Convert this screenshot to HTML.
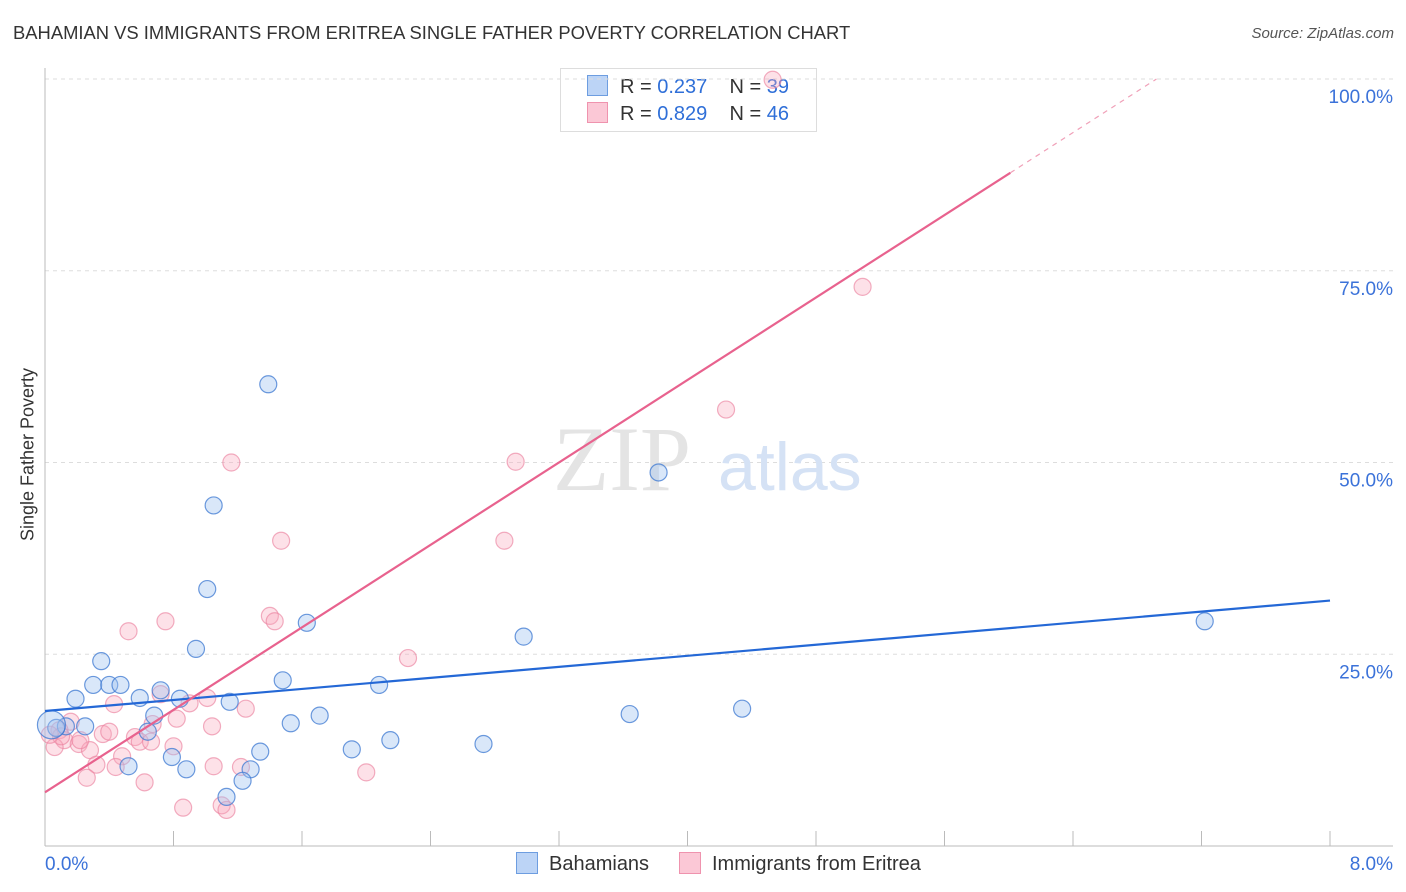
<!DOCTYPE html>
<html><head><meta charset="utf-8"><style>
body{margin:0;background:#fff;font-family:"Liberation Sans",sans-serif;}
#wrap{position:relative;width:1406px;height:892px;overflow:hidden}
.t{position:absolute;white-space:nowrap}
</style></head><body>
<div id="wrap">
<div class="t" style="left:13px;top:22px;font-size:18.4px;color:#333">BAHAMIAN VS IMMIGRANTS FROM ERITREA SINGLE FATHER POVERTY CORRELATION CHART</div>
<div class="t" style="right:12px;top:25px;font-size:15px;color:#555;font-style:italic">Source: ZipAtlas.com</div>
<div class="t" style="left:-60px;top:444px;font-size:18px;color:#333;transform:rotate(-90deg);width:176px;text-align:center">Single Father Poverty</div>
<div class="t" style="left:560px;top:68px;width:255px;height:62px;border:1px solid #ddd;background:#fff;font-size:20px;color:#333">
 <div style="position:absolute;left:58px;top:6px"><span style="display:inline-block;width:19px;height:19px;background:#bcd4f6;border:1px solid #6d9de0;vertical-align:-3px;margin-right:12px;margin-left:-32px"></span>R = <span style="color:#2f6fd8">0.237</span>&nbsp;&nbsp;&nbsp; N = <span style="color:#2f6fd8">39</span></div>
 <div style="position:absolute;left:58px;top:33px"><span style="display:inline-block;width:19px;height:19px;background:#fbc8d6;border:1px solid #ef93ae;vertical-align:-3px;margin-right:12px;margin-left:-32px"></span>R = <span style="color:#2f6fd8">0.829</span>&nbsp;&nbsp;&nbsp; N = <span style="color:#2f6fd8">46</span></div>
</div>
<svg id="svg" width="1406" height="892" style="position:absolute;left:0;top:0"></svg>
</div>
<script>
const blueX=[1.39,1.05,3.82,1.01,1.63,2.98,7.22,0.94,0.35,1.48,0.30,0.40,0.47,0.19,0.59,0.72,0.84,1.15,2.08,0.68,1.53,1.71,3.64,4.34,0.25,0.13,0.07,0.64,0.79,1.34,1.91,2.15,2.73,0.52,0.88,1.28,1.23,1.13,0.04];
const blueY=[60.2,44.4,48.7,33.5,29.1,27.3,29.3,25.7,24.1,21.6,21.0,21.0,21.0,19.2,19.3,20.3,19.2,18.8,21.0,17.0,16.0,17.0,17.2,17.9,15.6,15.6,15.4,14.9,11.6,12.3,12.6,13.8,13.3,10.4,10.0,10.0,8.5,6.4,15.8];
const pinkX=[4.53,5.09,4.24,1.16,2.93,2.86,1.47,0.75,1.40,1.43,0.52,2.26,0.72,1.01,0.90,0.43,1.25,0.67,0.82,1.04,0.56,0.59,0.36,0.40,0.66,0.80,0.16,0.09,0.12,0.21,0.28,0.06,0.48,0.32,0.44,1.22,1.05,2.00,0.26,0.62,0.86,1.10,1.13,0.10,0.22,0.03];
const pinkY=[99.9,72.9,56.9,50.0,50.1,39.8,39.8,29.3,30.0,29.3,28.0,24.5,19.8,19.3,18.6,18.5,17.9,15.9,16.6,15.6,14.2,13.6,14.6,14.9,13.6,13.0,16.2,15.1,13.8,13.3,12.5,12.9,11.7,10.6,10.3,10.3,10.4,9.6,8.9,8.3,5.0,5.3,4.7,14.3,13.8,14.5];
const blueTrend=[17.6,32.0];
const pinkTrend=[7.0,13.44];
const yTicks=[25,50,75,100];
const yTickLabels=["25.0%","50.0%","75.0%","100.0%"];
const xTickLabels=["0.0%","8.0%"];

const X=v=>45+v/8*1285, Y=v=>846-v/100*767;
const svg=document.getElementById('svg');const NS='http://www.w3.org/2000/svg';
function mk(t,a,p){const e=document.createElementNS(NS,t);for(const k in a)e.setAttribute(k,a[k]);(p||svg).appendChild(e);return e;}
yTicks.forEach((v,i)=>{
 const g=mk('line',{x1:45,x2:1393,y1:Y(v),y2:Y(v),stroke:'#ddd','stroke-dasharray':'4,4'});
 
 
 const t=mk('text',{x:1393,y:Y(v)+24,'text-anchor':'end','font-size':19,fill:'#3b72d9','font-family':'Liberation Sans'});
 t.textContent=yTickLabels[i];
 
 
});
const ax=mk('line',{x1:45,x2:45,y1:68,y2:846,stroke:'#bbb'});


const bx=mk('line',{x1:45,x2:1393,y1:846,y2:846,stroke:'#bbb'});


for(let i=1;i<=10;i++){const tk=mk('line',{x1:X(i*0.8),x2:X(i*0.8),y1:831,y2:846,stroke:'#bbb'});
 
 }
[[0,'start',45],[1,'end',1393]].forEach(([i,a,x])=>{const t=mk('text',{x:x,y:870,'text-anchor':a,'font-size':19,fill:'#3b72d9','font-family':'Liberation Sans'});t.textContent=xTickLabels[i];
 
 });
const wm=mk('text',{x:553,y:490,'font-size':92,fill:'#e4e4e4','font-family':'Liberation Serif'});wm.textContent='ZIP';


const wm2=mk('text',{x:718,y:490,'font-size':68,fill:'#d5e2f5','font-family':'Liberation Sans'});wm2.textContent='atlas';


function pts(xs,ys,fill,stroke,name,big){xs.forEach((x,i)=>{const c=mk('circle',{cx:X(x),cy:Y(ys[i]),r:(big&&i===xs.length-1)?14:8.5,fill:fill,stroke:stroke,'stroke-width':1.2});
 
 });}
pts(pinkX,pinkY,'rgba(248,170,190,0.35)','rgba(235,130,160,0.65)','eritrea-point',false);
pts(blueX,blueY,'rgba(160,195,240,0.4)','rgba(60,120,210,0.75)','bahamian-point',true);
const bl=mk('line',{x1:X(0),y1:Y(blueTrend[0]),x2:X(8),y2:Y(blueTrend[1]),stroke:'#2468d6','stroke-width':2.2});


const xEnd=6.01, xMax=(100-pinkTrend[0])/pinkTrend[1];
const pl=mk('line',{x1:X(0),y1:Y(pinkTrend[0]),x2:X(xEnd),y2:Y(pinkTrend[0]+pinkTrend[1]*xEnd),stroke:'#e8628e','stroke-width':2.2});


const pd=mk('line',{x1:X(xEnd),y1:Y(pinkTrend[0]+pinkTrend[1]*xEnd),x2:X(xMax),y2:Y(100),stroke:'#f0a0b8','stroke-width':1.2,'stroke-dasharray':'5,5'});


</script>
<div class="t" style="left:516px;top:852px;font-size:20px;color:#333"><span style="display:inline-block;width:20px;height:20px;background:#bcd4f6;border:1px solid #6d9de0;vertical-align:-4px;margin-right:11px"></span>Bahamians</div>
<div class="t" style="left:679px;top:852px;font-size:20px;color:#333"><span style="display:inline-block;width:20px;height:20px;background:#fbc8d6;border:1px solid #ef93ae;vertical-align:-4px;margin-right:11px"></span>Immigrants from Eritrea</div>
</body></html>
